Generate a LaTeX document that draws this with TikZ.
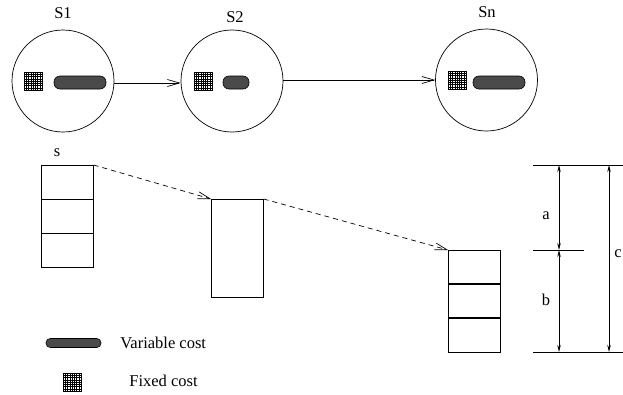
\documentclass[tikz,border=0pt]{standalone}
\usepackage{fontspec}
\setmainfont{Liberation Serif}
\usetikzlibrary{arrows.meta}
\definecolor{darkbar}{HTML}{4A4A4A}
\begin{document}
\begin{tikzpicture}[x=1pt,y=-1pt,line width=0.7pt,
  station/.style={circle,draw,minimum size=102pt,inner sep=0pt},
  lbl/.style={font=\fontsize{16.5}{19}\selectfont,inner sep=0pt},
  varbar/.style={draw=black,line width=0.6pt,fill=darkbar,rounded corners=6pt,minimum height=13pt,inner sep=0pt},
  legbar/.style={draw=black,line width=0.6pt,fill=darkbar,rounded corners=4.2pt,minimum height=9pt,minimum width=55pt,inner sep=0pt},
  boxnode/.style={draw,line width=0.7pt,inner sep=0pt,minimum width=52pt},
  flow/.style={-{Straight Barb[length=12pt,width=7pt]}},
  dflow/.style={dash pattern=on 5pt off 4pt,-{Straight Barb[length=12pt,width=7pt]}},
  dim/.style={{Stealth[length=7pt,width=3.5pt]}-{Stealth[length=7pt,width=3.5pt]}},
  fixedgrid/.pic={
    \foreach \i in {0,...,8}{
      \draw[line width=0.3pt] (\i*2.25,0) -- (\i*2.25,18);
      \draw[line width=0.3pt] (0,\i*2.25) -- (18,\i*2.25);
    }
    \draw[line width=0.5pt] (0,0) rectangle (18,18);
  }
]
\useasboundingbox (0,0) rectangle (623,394);

% stations
\node[station] (s1) at (63,81) {};
\node[station] (s2) at (232,81) {};
\node[station] (sn) at (486.5,80) {};
\node[lbl] (l1) at (63,13) {S1};
\node[lbl] (l2) at (235,17) {S2};
\node[lbl] (ln) at (487,12) {Sn};

\pic at (24,72) {fixedgrid};
\pic at (194,72) {fixedgrid};
\pic at (448,71) {fixedgrid};
\node[varbar,minimum width=52pt] (v1) at (80,82.5) {};
\node[varbar,minimum width=26pt] (v2) at (236,82.5) {};
\node[varbar,minimum width=52pt] (vn) at (499,82.5) {};

\draw[flow] (s1.east |- 0,83) -- (s2.west |- 0,83);
\draw[flow] (s2.east |- 0,80) -- (sn.west |- 0,80);

% stacks
\node[boxnode,minimum height=102pt,anchor=north west] (bs) at (41,165) {};
\draw (41,199) -- (93,199);
\draw (41,233) -- (93,233);
\node[lbl] (ls) at (57,153) {s};

\node[boxnode,minimum height=98pt,anchor=north west] (b2) at (211,199) {};

\node[boxnode,minimum height=102pt,anchor=north west] (b3) at (448,250) {};
\draw[line width=1.1pt] (448,284) -- (500,284);
\draw[line width=1.1pt] (448,318) -- (500,318);

\draw[dflow] (bs.north east) -- (b2.north west);
\draw[dflow] (b2.north east) -- (b3.north west);

% dimensions
\coordinate (t0) at (533,165);
\coordinate (t1) at (630,165);
\coordinate (m0) at (533,250);
\coordinate (m1) at (584,250);
\coordinate (u0) at (533,352);
\coordinate (u1) at (630,352);
\draw (t0) -- (t1);
\draw (m0) -- (m1);
\draw (u0) -- (u1);
\coordinate (at) at (559,165);
\coordinate (am) at (559,250);
\coordinate (ab) at (559,352);
\coordinate (ct) at (609,165);
\coordinate (cb) at (609,352);
\draw[dim] (at) -- (am);
\draw[dim] (am) -- (ab);
\draw[dim] (ct) -- (cb);
\node[lbl] (la) at (546,216) {a};
\node[lbl] (lb) at (546,300) {b};
\node[lbl,anchor=west] (lc) at (614,254) {c};

% legend
\node[legbar] (lv) at (73.5,343) {};
\node[lbl,anchor=west] (tv) at (120,343) {Variable cost};
\pic at (63,373) {fixedgrid};
\node[lbl,anchor=west] (tf) at (129,381) {Fixed cost};
\end{tikzpicture}
\end{document}
